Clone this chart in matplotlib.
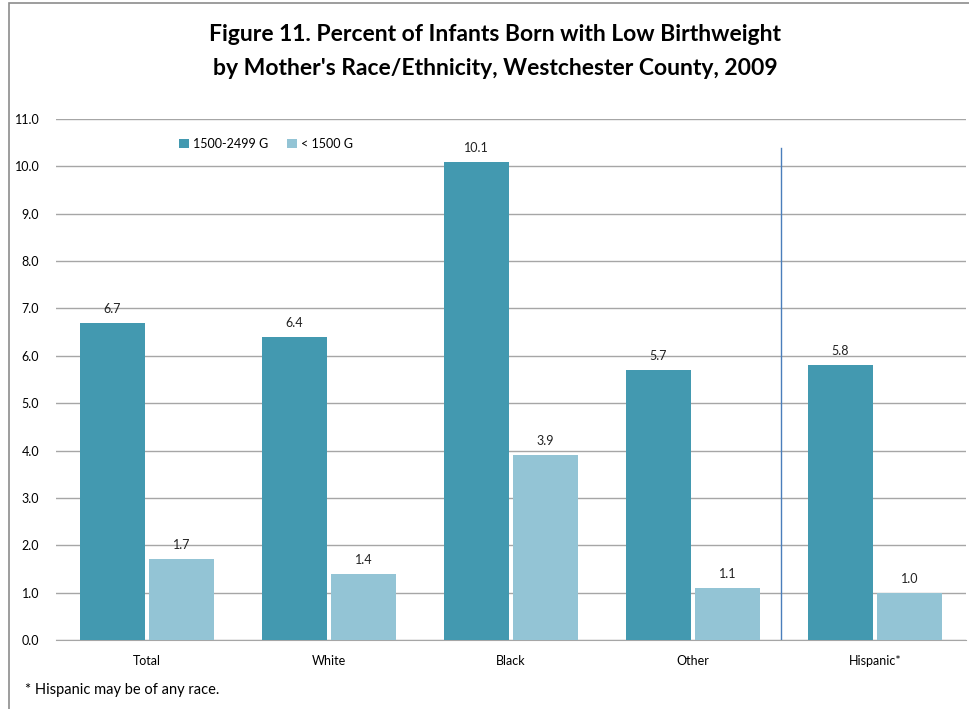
import matplotlib
matplotlib.use('Agg')
import matplotlib.pyplot as plt
import matplotlib.patches as mpatches
import numpy as np

plt.rcParams['font.family'] = ['Lato', 'DejaVu Sans']

categories = ['Total', 'White', 'Black', 'Other', 'Hispanic*']
moderate = [6.7, 6.4, 10.1, 5.7, 5.8]
very_low = [1.7, 1.4, 3.9, 1.1, 1.0]
series_names = ['1500-2499 G', '< 1500 G']
yticks = np.arange(0, 11.5, 1.0)

dark = '#4399b0'
light = '#93c4d5'

fig = plt.figure(figsize=(9.69, 7.09), dpi=100)
ax = fig.add_axes([0.0578, 0.0973, 0.939, 0.7349])

x = np.arange(len(categories))
w = 0.357
off = 0.19
b1 = ax.bar(x - off, moderate, w, color=dark, label=series_names[0], zorder=3)
b2 = ax.bar(x + off, very_low, w, color=light, label=series_names[1], zorder=3)

for bars, vals in [(b1, moderate), (b2, very_low)]:
    for r, v in zip(bars, vals):
        ax.text(r.get_x() + r.get_width() / 2, v + 0.17, '%.1f' % v,
                ha='center', va='bottom', fontsize=9, color='#222222')

# separator between race groups and Hispanic
ax.plot([3.485, 3.485], [0, 10.39], color='#4a7ebb', lw=1, zorder=4)

ax.set_xlim(-0.5, 4.5)
ax.set_ylim(0, 11)
ax.set_yticks(yticks)
ax.set_yticklabels(['%.1f' % t for t in yticks], fontsize=9)
ax.set_xticks(x)
ax.set_xticklabels(categories, fontsize=9)
ax.tick_params(length=0)
ax.tick_params(axis='x', pad=11)
ax.tick_params(axis='y', pad=12)
ax.yaxis.grid(True, color='#a6a6a6', lw=1, zorder=0)
for s in ['top', 'right', 'left']:
    ax.spines[s].set_visible(False)
ax.spines['bottom'].set_color('#a6a6a6')

ax.legend(loc='upper left', bbox_to_anchor=(0.123, 0.985), ncol=2, frameon=False,
          fontsize=9, handlelength=0.8, handleheight=0.8, handletextpad=0.3,
          columnspacing=1.5)

fig.text(0.511, 0.951, 'Figure 11. Percent of Infants Born with Low Birthweight',
         ha='center', va='center', fontsize=16.5, fontweight='bold')
fig.text(0.511, 0.903, "by Mother's Race/Ethnicity, Westchester County, 2009",
         ha='center', va='center', fontsize=16.5, fontweight='bold')
fig.text(0.026, 0.027, '* Hispanic may be of any race.', ha='left', va='center',
         fontsize=10.5)

frame = mpatches.Rectangle((9 / 969, -0.1), 1.2, 1.1 - 3 / 709, transform=fig.transFigure,
                           fill=False, edgecolor='#8c8c8c', lw=1.2)
fig.patches.append(frame)

fig.savefig('out.png', dpi=100)
